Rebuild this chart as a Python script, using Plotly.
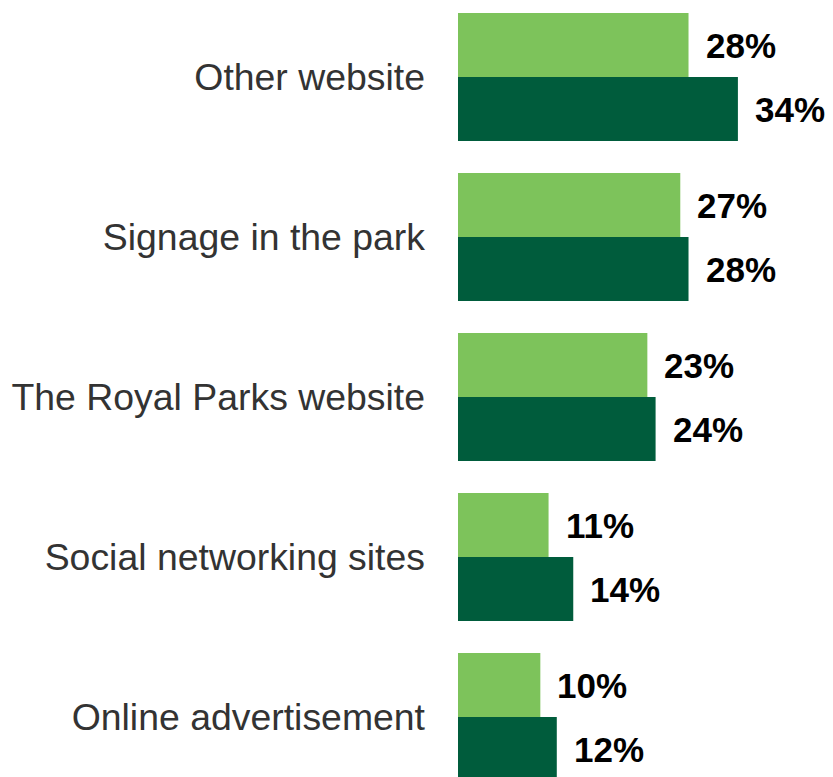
import plotly.graph_objects as go

categories = ["Other website", "Signage in the park", "The Royal Parks website",
              "Social networking sites", "Online advertisement"]
series_a = [28, 27, 23, 11, 10]
series_b = [34, 28, 24, 14, 12]
labels_a = [f"{v}%" for v in series_a]
labels_b = [f"{v}%" for v in series_b]

FONT = "Liberation Sans, Arial, sans-serif"

fig = go.Figure()
fig.add_trace(go.Bar(
    y=categories, x=series_a, orientation="h", name="A",
    marker=dict(color="#7DC35B", line=dict(width=0)),
))
fig.add_trace(go.Bar(
    y=categories, x=series_b, orientation="h", name="B",
    marker=dict(color="#005C3C", line=dict(width=0)),
))

annotations = []
for cat, v, lab in zip(categories, series_a, labels_a):
    annotations.append(dict(x=v, y=cat, text=lab, showarrow=False, xanchor="left",
                            yanchor="middle", xshift=15, yshift=32,
                            font=dict(family=FONT, size=35, color="#000000", weight="bold")))
for cat, v, lab in zip(categories, series_b, labels_b):
    annotations.append(dict(x=v, y=cat, text=lab, showarrow=False, xanchor="left",
                            yanchor="middle", xshift=15, yshift=-32,
                            font=dict(family=FONT, size=35, color="#000000", weight="bold")))

fig.update_layout(
    width=825, height=769,
    margin=dict(l=450, r=0, t=0, b=0),
    barmode="group", bargap=0.2, bargroupgap=0,
    plot_bgcolor="white", paper_bgcolor="white",
    showlegend=False,
    annotations=annotations,
)
fig.update_xaxes(range=[0, 45.55], visible=False, showgrid=False, zeroline=False)
fig.update_yaxes(
    type="category", categoryorder="array", categoryarray=categories,
    range=[4.375, -0.43125], showgrid=False, zeroline=False, showline=False,
    ticks="", ticklabelstandoff=32,
    tickfont=dict(family=FONT, size=37.4, color="#333333"),
)

fig.write_html("out.html")
